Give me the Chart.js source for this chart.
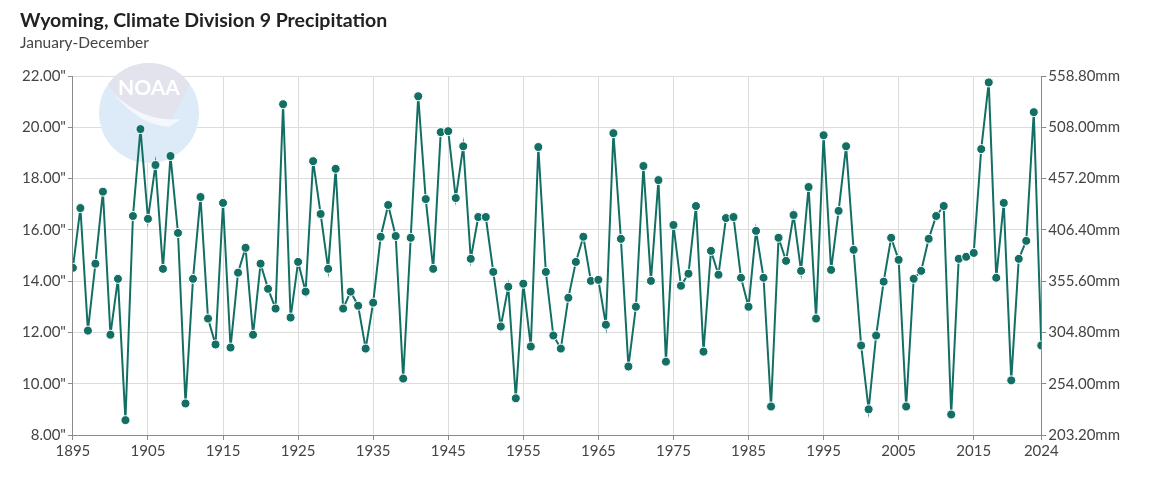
<!DOCTYPE html>
<html lang="en">
<head>
    <meta charset="UTF-8">
    <title>Wyoming, Climate Division 9 Precipitation</title>
    <script src="https://cdn.jsdelivr.net/npm/chart.js"></script>
    <style>
        body {
            margin: 0;
            padding: 0;
            background: #fff;
            font-family: Lato, "Noto Sans", sans-serif;
        }
        .wrap {
            position: relative;
            width: 1168px;
            height: 479px;
        }
        .title {
            position: absolute;
            left: 20px;
            top: 8px;
            font-size: 19.5px;
            font-weight: bold;
            color: #222;
        }
        .subtitle {
            position: absolute;
            left: 20px;
            top: 33px;
            font-size: 15.5px;
            color: #444;
        }
        canvas {
            position: absolute;
            left: 0;
            top: 0;
        }
    </style>
</head>
<body>
    <div class="wrap">
        <canvas id="grafico" width="1168" height="479"></canvas>
        <div class="title">Wyoming, Climate Division 9 Precipitation</div>
        <div class="subtitle">January-December</div>
    </div>

    <script>
        // years 1895..2024
        const startYear = 1895;
        const endYear = 2024;

        // annual precipitation, inches
        const precip = [
            14.52, 16.85, 12.07, 14.68, 17.49, 11.91, 14.09, 8.58, 16.54, 19.93,
            16.43, 18.53, 14.48, 18.88, 15.88, 9.23, 14.09, 17.28, 12.54, 11.53,
            17.05, 11.41, 14.33, 15.30, 11.91, 14.68, 13.70, 12.93, 20.90, 12.58,
            14.75, 13.59, 18.68, 16.62, 14.48, 18.38, 12.93, 13.59, 13.04, 11.37,
            13.16, 15.73, 16.97, 15.76, 10.20, 15.69, 21.21, 17.20, 14.48, 19.81,
            19.85, 17.24, 19.26, 14.87, 16.50, 16.50, 14.36, 12.23, 13.78, 9.43,
            13.90, 11.45, 19.23, 14.36, 11.88, 11.37, 13.35, 14.75, 15.73, 14.01,
            14.05, 12.30, 19.77, 15.65, 10.67, 13.00, 18.49, 14.01, 17.94, 10.86,
            16.19, 13.82, 14.29, 16.93, 11.25, 15.18, 14.25, 16.46, 16.50, 14.13,
            13.00, 15.96, 14.13, 9.11, 15.69, 14.79, 16.58, 14.40, 17.67, 12.54,
            19.69, 14.44, 16.74, 19.26, 15.22, 11.49, 9.00, 11.88, 13.98, 15.69,
            14.83, 9.11, 14.09, 14.40, 15.65, 16.54, 16.93, 8.80, 14.87, 14.95,
            15.10, 19.15, 21.75, 14.13, 17.05, 10.13, 14.87, 15.57, 20.59, 11.49
        ];

        const xTicks = [1895, 1905, 1915, 1925, 1935, 1945, 1955, 1965, 1975, 1985, 1995, 2005, 2015, 2024];
        const yTicks = [8, 10, 12, 14, 16, 18, 20, 22];

        const points = precip.map((v, i) => ({ x: startYear + i, y: v }));

        const lineColor = "#136f63";
        const gridColor = "#dcdcdc";
        const axisColor = "#8a8a8a";
        const labelColor = "#444";

        // faded NOAA emblem behind the line
        const noaaLogo = {
            id: "noaaLogo",
            beforeDatasetsDraw(chart) {
                const ctx = chart.ctx;
                const cx = 149, cy = 113, r = 50;
                ctx.save();
                ctx.beginPath();
                ctx.arc(cx, cy, r, 0, Math.PI * 2);
                ctx.fillStyle = "#dcebf7";
                ctx.fill();
                ctx.clip();
                // upper cap
                ctx.beginPath();
                ctx.moveTo(cx - 52, cy - 52);
                ctx.lineTo(cx + 52, cy - 52);
                ctx.lineTo(cx + 40, cy - 28);
                ctx.quadraticCurveTo(cx + 28, cy - 2, cx + 20, cy + 9);
                ctx.quadraticCurveTo(cx - 10, cy + 2, cx - 30, cy - 14);
                ctx.lineTo(cx - 42, cy - 30);
                ctx.closePath();
                ctx.fillStyle = "#e2e3ec";
                ctx.fill();
                // gull wing
                ctx.beginPath();
                ctx.moveTo(cx - 36, cy - 20);
                ctx.quadraticCurveTo(cx - 5, cy + 10, cx + 32, cy + 6);
                ctx.lineTo(cx + 20, cy + 14);
                ctx.quadraticCurveTo(cx - 10, cy + 12, cx - 36, cy - 20);
                ctx.fillStyle = "#f4f7fb";
                ctx.fill();
                ctx.fillStyle = "#ffffff";
                ctx.font = "bold 21px Lato, sans-serif";
                ctx.textAlign = "center";
                ctx.textBaseline = "middle";
                ctx.fillText("NOAA", cx, cy - 25);
                ctx.restore();
            }
        };

        const ctx = document.getElementById("grafico").getContext("2d");
        new Chart(ctx, {
            type: "line",
            data: {
                datasets: [{
                    label: "Precipitation",
                    data: points,
                    borderColor: lineColor,
                    borderWidth: 2,
                    backgroundColor: lineColor,
                    pointBackgroundColor: lineColor,
                    pointBorderColor: "#ffffff",
                    pointBorderWidth: 1,
                    pointRadius: 4.5,
                    tension: 0,
                    fill: false,
                    yAxisID: "y"
                }]
            },
            options: {
                responsive: false,
                animation: false,
                layout: {
                    padding: { left: 20, right: 46, top: 76, bottom: 17 }
                },
                plugins: {
                    legend: { display: false },
                    tooltip: { enabled: false }
                },
                scales: {
                    x: {
                        type: "linear",
                        min: startYear,
                        max: endYear,
                        afterBuildTicks: s => { s.ticks = xTicks.map(v => ({ value: v })); },
                        grid: { color: gridColor, tickColor: axisColor, tickLength: 5 },
                        border: { color: axisColor, width: 1 },
                        ticks: {
                            color: labelColor,
                            font: { family: "Lato", size: 15 },
                            padding: 2,
                            maxRotation: 0,
                            autoSkip: false,
                            callback: v => String(v)
                        }
                    },
                    y: {
                        position: "left",
                        min: 8,
                        max: 22,
                        afterBuildTicks: s => { s.ticks = yTicks.map(v => ({ value: v })); },
                        grid: { color: gridColor, tickColor: axisColor, tickLength: 5 },
                        border: { color: axisColor, width: 1 },
                        ticks: {
                            color: labelColor,
                            font: { family: "Lato", size: 15 },
                            padding: 2,
                            callback: v => v.toFixed(2) + '"'
                        }
                    },
                    mm: {
                        position: "right",
                        min: 8,
                        max: 22,
                        afterBuildTicks: s => { s.ticks = yTicks.map(v => ({ value: v })); },
                        grid: { drawOnChartArea: false, tickColor: axisColor, tickLength: 5 },
                        border: { color: axisColor, width: 1 },
                        ticks: {
                            color: labelColor,
                            font: { family: "Lato", size: 15 },
                            padding: 2,
                            callback: v => (v * 25.4).toFixed(2) + "mm"
                        }
                    }
                }
            },
            plugins: [noaaLogo]
        });
    </script>
</body>
</html>
